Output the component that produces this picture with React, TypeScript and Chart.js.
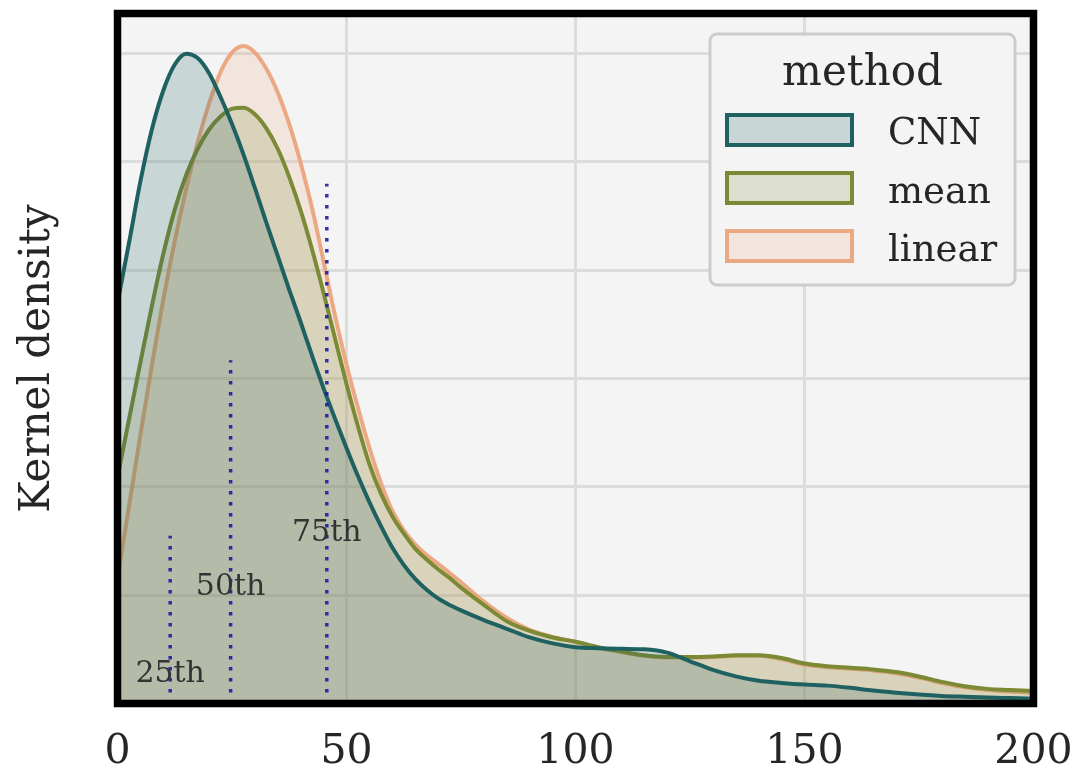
import { useEffect, useRef } from 'react';
import { Chart, registerables } from 'chart.js';

Chart.register(...registerables);

// Evaluation grid (x-axis) shared by all three density curves
const xGrid = [
  0, 2.5, 5, 7.5, 10, 12.5, 15, 17.5, 20, 22.5, 25, 27.5, 30, 32.5, 35, 37.5, 40, 42.5, 45, 47.5,
  50, 52.5, 55, 57.5, 60, 62.5, 65, 67.5, 70, 72.5, 75,
  80, 85, 90, 95, 100, 105, 110, 115, 120, 125, 130, 135, 140, 145, 150, 155, 160, 165, 170, 175,
  180, 185, 190, 195, 200,
];

const cnnDensity = [
  0.0074, 0.0085, 0.00964, 0.0106, 0.01132, 0.0118, 0.012, 0.01192, 0.01164, 0.0112, 0.0107, 0.01014,
  0.00952, 0.00888, 0.00826, 0.00764, 0.00704, 0.00642, 0.00582, 0.00526, 0.00472, 0.0042, 0.00372,
  0.00328, 0.00288, 0.00256, 0.0023, 0.0021, 0.00194, 0.00182, 0.00172,
  0.00154, 0.00138, 0.00122, 0.00111, 0.00104, 0.00102, 0.00101, 0.001, 0.00094, 0.00078, 0.00062,
  0.0005, 0.00042, 0.00038, 0.00035, 0.00033, 0.00029, 0.00024, 0.0002, 0.000166, 0.00014, 0.000124,
  0.00011, 0.0001, 0.00009,
];

const meanDensity = [
  0.00418, 0.00524, 0.0063, 0.00734, 0.0083, 0.00912, 0.00976, 0.01024, 0.0106, 0.01084, 0.01098,
  0.011, 0.01088, 0.01062, 0.01024, 0.00972, 0.0091, 0.00838, 0.00758, 0.00674, 0.0059, 0.00512,
  0.00442, 0.00388, 0.00346, 0.00314, 0.00286, 0.00266, 0.00248, 0.00232, 0.00214,
  0.00182, 0.00152, 0.00134, 0.00122, 0.00114, 0.00104, 0.00096, 0.00089, 0.00086, 0.00086, 0.00087,
  0.00089, 0.00089, 0.00084, 0.00074, 0.00069, 0.00066, 0.00063, 0.00058, 0.0005, 0.0004, 0.00032,
  0.00027, 0.00025, 0.00023,
];

const linearDensity = [
  0.0023, 0.00364, 0.00496, 0.00624, 0.00746, 0.00854, 0.0095, 0.01036, 0.01108, 0.01166, 0.01202,
  0.01214, 0.01202, 0.01172, 0.01128, 0.0107, 0.00998, 0.00914, 0.00816, 0.00716, 0.00626, 0.00546,
  0.00472, 0.00408, 0.00356, 0.0032, 0.00294, 0.00274, 0.00258, 0.00241, 0.00224,
  0.00188, 0.00158, 0.00136, 0.00123, 0.00114, 0.00103, 0.00095, 0.00088, 0.00085, 0.00085, 0.00086,
  0.00088, 0.00088, 0.00082, 0.00072, 0.00067, 0.00064, 0.00061, 0.00056, 0.00048, 0.00038, 0.0003,
  0.00025, 0.00022, 0.0002,
];

const seriesNames = ['CNN', 'mean', 'linear'];
const seriesColors = ['#1f6161', '#7c8a36', '#eaa983'];
const seriesValues = [cnnDensity, meanDensity, linearDensity];

// Percentile markers: position on x, height of the dotted line, height of its label
const percentileNames = ['25th', '50th', '75th'];
const percentileValues = [11.5, 24.7, 45.7];
const percentileLineTops = [0.0031, 0.00634, 0.0096];
const percentileLabelY = [0.0004, 0.002, 0.003];

const xTickValues = [0, 50, 100, 150, 200];
const legendTitle = 'method';
const yAxisTitle = 'Kernel density';

const SERIF = "'DejaVu Serif', serif";
const TEXT = '#262626';
const PANEL = '#f4f4f4';
const GRID = '#dcdcdc';
const PCT_COLOR = 'rgba(28, 28, 165, 0.9)';

function withAlpha(hex: string, a: number) {
  const n = parseInt(hex.slice(1), 16);
  return `rgba(${(n >> 16) & 255}, ${(n >> 8) & 255}, ${n & 255}, ${a})`;
}

const panelPlugin = {
  id: 'panelBackground',
  beforeDraw(chart: any) {
    const { ctx, chartArea: a } = chart;
    ctx.save();
    ctx.fillStyle = PANEL;
    ctx.fillRect(a.left, a.top, a.right - a.left, a.bottom - a.top);
    ctx.restore();
  },
};

const percentileLabelPlugin = {
  id: 'percentileLabels',
  afterDatasetsDraw(chart: any) {
    const { ctx } = chart;
    const xs = chart.scales.x;
    const ys = chart.scales.y;
    ctx.save();
    ctx.font = `30px ${SERIF}`;
    ctx.fillStyle = '#333333';
    ctx.textAlign = 'center';
    ctx.textBaseline = 'alphabetic';
    percentileNames.forEach((name, i) => {
      ctx.fillText(name, xs.getPixelForValue(percentileValues[i]), ys.getPixelForValue(percentileLabelY[i]));
    });
    ctx.restore();
  },
};

const legendPlugin = {
  id: 'methodLegend',
  afterDraw(chart: any) {
    const { ctx, chartArea: a } = chart;
    const boxW = 305;
    const boxH = 251;
    const right = a.right - 18.5;
    const left = right - boxW;
    const top = a.top + 20.5;
    const r = 7;
    ctx.save();
    ctx.beginPath();
    ctx.moveTo(left + r, top);
    ctx.arcTo(right, top, right, top + boxH, r);
    ctx.arcTo(right, top + boxH, left, top + boxH, r);
    ctx.arcTo(left, top + boxH, left, top, r);
    ctx.arcTo(left, top, right, top, r);
    ctx.closePath();
    ctx.fillStyle = PANEL;
    ctx.fill();
    ctx.lineWidth = 3;
    ctx.strokeStyle = '#cccccc';
    ctx.stroke();

    ctx.fillStyle = TEXT;
    ctx.textAlign = 'center';
    ctx.textBaseline = 'alphabetic';
    ctx.font = `42px ${SERIF}`;
    ctx.fillText(legendTitle, left + boxW / 2, top + 51);

    ctx.font = `37px ${SERIF}`;
    ctx.textAlign = 'left';
    seriesNames.forEach((name, i) => {
      const py = top + 81 + 58 * i;
      ctx.fillStyle = withAlpha(seriesColors[i], 0.2);
      ctx.fillRect(left + 17, py, 125, 30);
      ctx.lineWidth = 4;
      ctx.strokeStyle = seriesColors[i];
      ctx.strokeRect(left + 17, py, 125, 30);
      ctx.fillStyle = TEXT;
      ctx.fillText(name, left + 178, top + 110 + 58.5 * i);
    });
    ctx.restore();
  },
};

const framePlugin = {
  id: 'axesFrame',
  afterDraw(chart: any) {
    const { ctx, chartArea: a } = chart;
    ctx.save();
    ctx.lineWidth = 7.5;
    ctx.strokeStyle = '#000000';
    ctx.strokeRect(a.left, a.top, a.right - a.left, a.bottom - a.top);
    ctx.restore();
  },
};

export default function App() {
  const canvasRef = useRef<HTMLCanvasElement | null>(null);

  useEffect(() => {
    const canvas = canvasRef.current;
    if (!canvas) return;

    const curveSets = seriesNames.map((name, i) => ({
      label: name,
      data: xGrid.map((x, j) => ({ x, y: seriesValues[i][j] })),
      borderColor: seriesColors[i],
      backgroundColor: withAlpha(seriesColors[i], 0.2),
      borderWidth: 4,
      fill: 'origin',
      pointRadius: 0,
      cubicInterpolationMode: 'monotone' as const,
      order: i + 1,
    }));

    const percentileSets = percentileNames.map((name, i) => ({
      label: name,
      data: [
        { x: percentileValues[i], y: 0 },
        { x: percentileValues[i], y: percentileLineTops[i] },
      ],
      borderColor: PCT_COLOR,
      borderWidth: 3.5,
      borderDash: [3.5, 7.5],
      borderCapStyle: 'butt' as const,
      fill: false,
      pointRadius: 0,
      tension: 0,
      order: 0,
    }));

    const chart = new Chart(canvas, {
      type: 'line',
      data: { datasets: [...curveSets, ...percentileSets] as any },
      options: {
        animation: false,
        responsive: false,
        devicePixelRatio: 1,
        events: [],
        layout: { padding: { left: 0, right: 42.5, top: 13.5, bottom: 0 } },
        plugins: {
          legend: { display: false },
          tooltip: { enabled: false },
        },
        scales: {
          x: {
            type: 'linear',
            min: 0,
            max: 200,
            afterFit: (s: any) => {
              s.height = 65.5;
              s.paddingLeft = 0;
              s.paddingRight = 0;
            },
            afterBuildTicks: (s: any) => {
              s.ticks = xTickValues.map((v) => ({ value: v }));
            },
            ticks: {
              font: { family: SERIF, size: 41 },
              color: TEXT,
              padding: 24,
              maxRotation: 0,
              autoSkip: false,
            },
            grid: { color: GRID, lineWidth: 3, drawTicks: false },
            border: { display: false },
          },
          y: {
            type: 'linear',
            min: 0,
            max: 0.012742,
            afterFit: (s: any) => {
              s.width = 117.5;
              s.paddingTop = 0;
              s.paddingBottom = 0;
            },
            ticks: { display: false, stepSize: 0.002 },
            grid: { color: GRID, lineWidth: 3, drawTicks: false },
            border: { display: false },
            title: {
              display: true,
              text: yAxisTitle,
              font: { family: SERIF, size: 42 },
              color: TEXT,
              padding: { top: 12.8, bottom: 0 },
            },
          },
        },
      },
      plugins: [panelPlugin, percentileLabelPlugin, legendPlugin, framePlugin],
    });

    return () => {
      chart.destroy();
    };
  }, []);

  return (
    <div style={{ position: 'fixed', left: 0, top: 0, width: 1076, height: 769, background: '#ffffff' }}>
      <canvas ref={canvasRef} width={1076} height={769} style={{ display: 'block' }} />
    </div>
  );
}
